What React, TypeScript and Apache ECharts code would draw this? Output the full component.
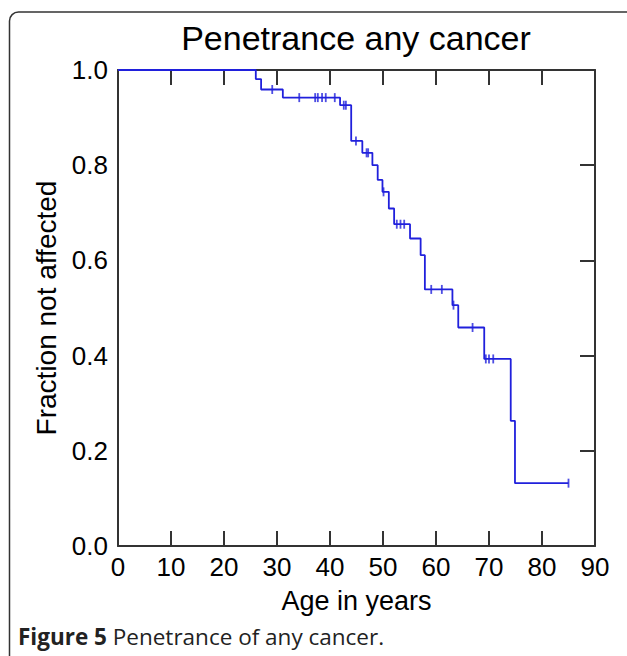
import React, { useEffect, useRef } from "react";
import * as echarts from "echarts";

// Kaplan-Meier step points: [age, fraction not affected]
const stepAges = [0, 26.0, 27.0, 31.1, 41.9, 44.0, 46.1, 48.0, 49.0, 49.9, 51.1, 52.1, 55.1, 57.1, 57.9, 63.1, 64.2, 69.1, 74.1, 74.9, 85.0];
const stepValues = [1.0, 0.981, 0.959, 0.942, 0.926, 0.851, 0.826, 0.8, 0.769, 0.744, 0.709, 0.676, 0.646, 0.611, 0.539, 0.506, 0.459, 0.393, 0.263, 0.132, 0.132];

// Censored observations
const censorAges = [29.1, 34.2, 37.2, 37.7, 38.5, 39.2, 40.9, 42.6, 43.0, 44.9, 46.9, 47.2, 50.1, 52.6, 53.3, 54.0, 59.1, 61.1, 63.3, 66.9, 69.4, 70.0, 70.8, 85.0];
const censorValues = [0.959, 0.942, 0.942, 0.942, 0.942, 0.942, 0.942, 0.926, 0.926, 0.851, 0.826, 0.826, 0.744, 0.676, 0.676, 0.676, 0.539, 0.539, 0.506, 0.459, 0.393, 0.393, 0.393, 0.132];

const xTicks = [0, 10, 20, 30, 40, 50, 60, 70, 80, 90];
const yTicks = [0, 0.2, 0.4, 0.6, 0.8, 1.0];

const titleText = "Penetrance any cancer";
const xName = "Age in years";
const yName = "Fraction not affected";
const captionBold = "Figure 5";
const captionRest = " Penetrance of any cancer.";

const BLUE = "#2020dc";
const AXIS = "#333333";
const FONT = "Liberation Sans, Arial, sans-serif";

export default function App() {
  const ref = useRef<HTMLDivElement>(null);
  useEffect(() => {
    if (!ref.current) return;
    const chart = echarts.init(ref.current, null, { renderer: "svg" });
    const axisLine = { show: true, onZero: false, lineStyle: { color: AXIS, width: 2 } };
    const innerTick = { show: true, inside: true, length: 15, lineStyle: { color: AXIS, width: 2 } };
    const option: any = {
      animation: false,
      backgroundColor: "#ffffff",
      grid: { left: 118, right: 32, top: 70, bottom: 110 },
      xAxis: [
        {
          type: "value",
          min: xTicks[0],
          max: xTicks[xTicks.length - 1],
          interval: 10,
          position: "bottom",
          axisLine,
          axisTick: innerTick,
          axisLabel: { color: "#000", fontSize: 26, fontFamily: FONT, margin: 8 },
          splitLine: { show: false },
          name: xName,
          nameLocation: "middle",
          nameGap: 41,
          nameTextStyle: { color: "#000", fontSize: 27, fontFamily: FONT },
        },
        {
          type: "value",
          min: xTicks[0],
          max: xTicks[xTicks.length - 1],
          interval: 10,
          position: "top",
          axisLine,
          axisTick: innerTick,
          axisLabel: { show: false },
          splitLine: { show: false },
        },
      ],
      yAxis: [
        {
          type: "value",
          min: yTicks[0],
          max: yTicks[yTicks.length - 1],
          interval: 0.2,
          position: "left",
          axisLine,
          axisTick: { show: false },
          axisLabel: {
            color: "#000",
            fontSize: 26,
            fontFamily: FONT,
            margin: 10,
            formatter: (v: number) => v.toFixed(1),
          },
          splitLine: { show: false },
          name: yName,
          nameLocation: "middle",
          nameGap: 57,
          nameTextStyle: { color: "#000", fontSize: 28, fontFamily: FONT },
        },
        {
          type: "value",
          min: yTicks[0],
          max: yTicks[yTicks.length - 1],
          interval: 0.2,
          position: "right",
          axisLine,
          axisTick: innerTick,
          axisLabel: { show: false },
          splitLine: { show: false },
        },
      ],
      series: [
        {
          type: "line",
          step: "end",
          xAxisIndex: 0,
          yAxisIndex: 0,
          showSymbol: false,
          symbol: "none",
          lineStyle: { color: BLUE, width: 1.8 },
          data: stepAges.map((a, i) => [a, stepValues[i]]),
          z: 3,
        },
        {
          type: "scatter",
          xAxisIndex: 0,
          yAxisIndex: 0,
          symbol: "rect",
          symbolSize: [1.8, 9],
          itemStyle: { color: BLUE },
          data: censorAges.map((a, i) => [a, censorValues[i]]),
          z: 4,
        },
      ],
      graphic: [
        {
          type: "rect",
          shape: { x: 9.5, y: 12, width: 700, height: 700, r: 9 },
          style: { fill: "none", stroke: "#333", lineWidth: 1.5 },
          silent: true,
        },
        {
          type: "text",
          x: 356,
          y: 38,
          style: {
            text: titleText,
            fontSize: 34,
            fontFamily: FONT,
            fill: "#000",
            textAlign: "center",
            textVerticalAlign: "middle",
          },
        },
        {
          type: "text",
          x: 18,
          y: 636,
          style: {
            text: "{b|" + captionBold + "}{r|" + captionRest + "}",
            textVerticalAlign: "middle",
            rich: {
              b: { fontSize: 22.5, fontWeight: "bold", fontFamily: "Open Sans, sans-serif", fill: "#222" },
              r: { fontSize: 22.5, fontFamily: "Open Sans, sans-serif", fill: "#222" },
            },
          },
        },
      ],
    };
    chart.setOption(option);
    return () => chart.dispose();
  }, []);
  return (
    <div
      ref={ref}
      style={{ position: "fixed", left: 0, top: 0, width: 627, height: 656 }}
    />
  );
}
